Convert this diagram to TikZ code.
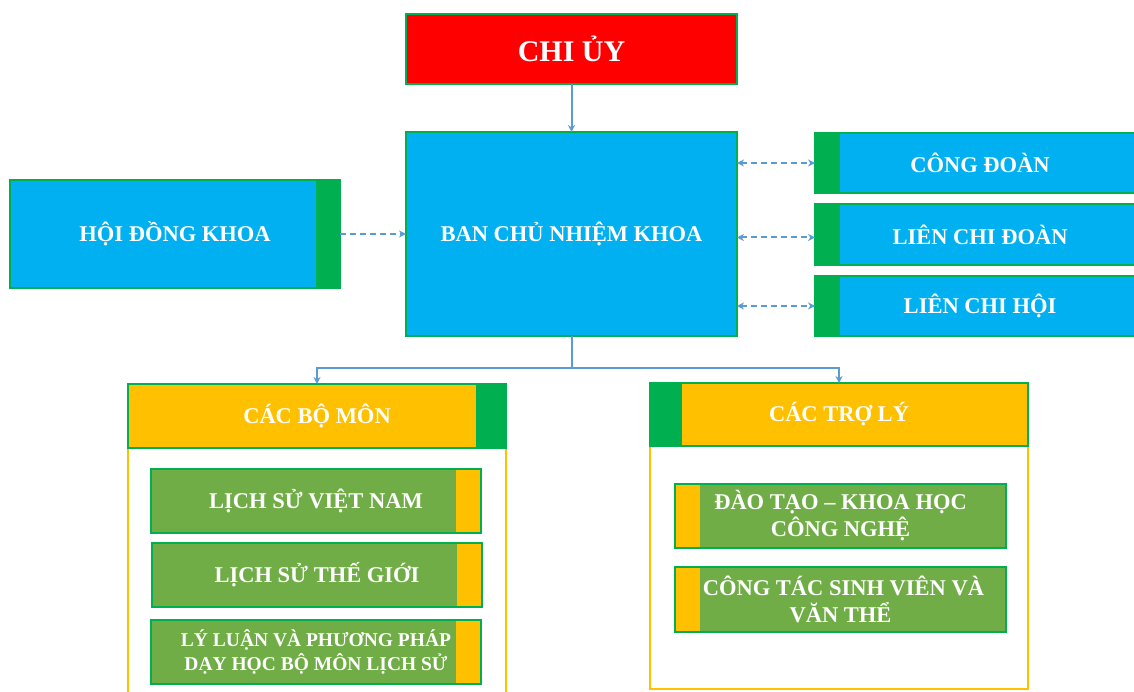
\documentclass[tikz,border=0pt]{standalone}
\usepackage{fontspec}
\setmainfont{Liberation Serif}
\usetikzlibrary{arrows.meta}
\definecolor{cRed}{HTML}{FF0000}
\definecolor{cCyan}{HTML}{00B0F0}
\definecolor{cGreen}{HTML}{00B050}
\definecolor{cYel}{HTML}{FFC000}
\definecolor{cOlive}{HTML}{70AD47}
\definecolor{cBlue}{HTML}{5B9BD5}
\begin{document}
\begin{tikzpicture}[x=1pt,y=-1pt,
  box/.style={draw=cGreen, line width=2.5pt, inner sep=0pt, outer sep=0pt, text=white,
    font=\bfseries\fontsize{22.5}{27}\selectfont, align=center},
  smallbox/.style={box, line width=2pt, fill=cOlive},
  rbar/.style 2 args={path picture={\fill[#1] ([xshift=-#2]path picture bounding box.north east) rectangle (path picture bounding box.south east);}},
  lbar/.style 2 args={path picture={\fill[#1] (path picture bounding box.north west) rectangle ([xshift=#2]path picture bounding box.south west);}},
  container/.style={draw=cYel, line width=2pt},
  link/.style={draw=cBlue, line width=2pt, -{Stealth[length=7pt,width=7pt]}},
  dlink/.style={draw=cBlue, line width=2pt, dash pattern=on 6pt off 4pt, -{Stealth[length=7pt,width=7pt]}},
  ddlink/.style={dlink, {Stealth[length=7pt,width=7pt]}-{Stealth[length=7pt,width=7pt]}}
]
\useasboundingbox (0,0) rectangle (1134,692);
\clip (0,0) rectangle (1134,692);

% containers
\draw[container] (128,448) rectangle (506,700);
\draw[container] (650,446) rectangle (1028,689);

% top level
\node[box, fill=cRed, minimum width=331pt, minimum height=70pt, font=\bfseries\fontsize{30}{34}\selectfont] (cu) at (571.5,49) {CHI ỦY};
\node[box, fill=cCyan, minimum width=331pt, minimum height=204pt] (bcn) at (571.5,234) {BAN CHỦ NHIỆM KHOA};
\node[box, fill=cCyan, rbar={cGreen}{24pt}, minimum width=330pt, minimum height=108pt] (hdk) at (175,234) {HỘI ĐỒNG KHOA};

\node[box, fill=cCyan, lbar={cGreen}{25pt}, minimum width=322pt, minimum height=60pt] (cd) at (976,163) {\hspace*{8pt}CÔNG ĐOÀN};
\node[box, fill=cCyan, lbar={cGreen}{25pt}, minimum width=322pt, minimum height=61pt] (lcd) at (976,234.5) {\hspace*{8pt}LIÊN CHI ĐOÀN};
\node[box, fill=cCyan, lbar={cGreen}{25pt}, minimum width=322pt, minimum height=60pt] (lch) at (976,306) {\hspace*{8pt}LIÊN CHI HỘI};

% headers
\node[box, fill=cYel, rbar={cGreen}{30pt}, minimum width=378pt, minimum height=64pt] (cbm) at (317,416) {CÁC BỘ MÔN};
\node[box, fill=cYel, lbar={cGreen}{32pt}, minimum width=378pt, minimum height=63pt] (ctl) at (839,414.5) {CÁC TRỢ LÝ};

% inner boxes left
\node[smallbox, rbar={cYel}{25pt}, minimum width=330pt, minimum height=64pt] (vn) at (316,501) {LỊCH SỬ VIỆT NAM};
\node[smallbox, rbar={cYel}{25pt}, minimum width=330pt, minimum height=64pt] (tg) at (317,575) {LỊCH SỬ THẾ GIỚI};
\node[smallbox, rbar={cYel}{25pt}, minimum width=330pt, minimum height=64pt, font=\bfseries\fontsize{19.5}{24}\selectfont] (ll) at (316,652) {LÝ LUẬN VÀ PHƯƠNG PHÁP\\DẠY HỌC BỘ MÔN LỊCH SỬ};

% inner boxes right
\node[smallbox, lbar={cYel}{25pt}, minimum width=331pt, minimum height=64pt] (dt) at (840.5,516) {ĐÀO TẠO – KHOA HỌC\\CÔNG NGHỆ};
\node[smallbox, lbar={cYel}{25pt}, minimum width=331pt, minimum height=65pt] (ct) at (840.5,599.5) {\hspace*{6pt}CÔNG TÁC SINH VIÊN VÀ\\VĂN THỂ};

% connectors
\draw[link] (cu) -- (bcn);
\draw[dlink] (hdk) -- (bcn);
\draw[ddlink] (bcn.east |- cd.west) -- (cd.west);
\draw[ddlink] ([yshift=-3pt]bcn.east |- lcd.west) -- ([yshift=-3pt]lcd.west);
\draw[ddlink] (bcn.east |- lch.west) -- (lch.west);
\coordinate (split) at (571.5,368);
\draw[link] (bcn.south) -- (split) -| (cbm.north);
\draw[link] (split) -| (ctl.north);
\end{tikzpicture}
\end{document}
